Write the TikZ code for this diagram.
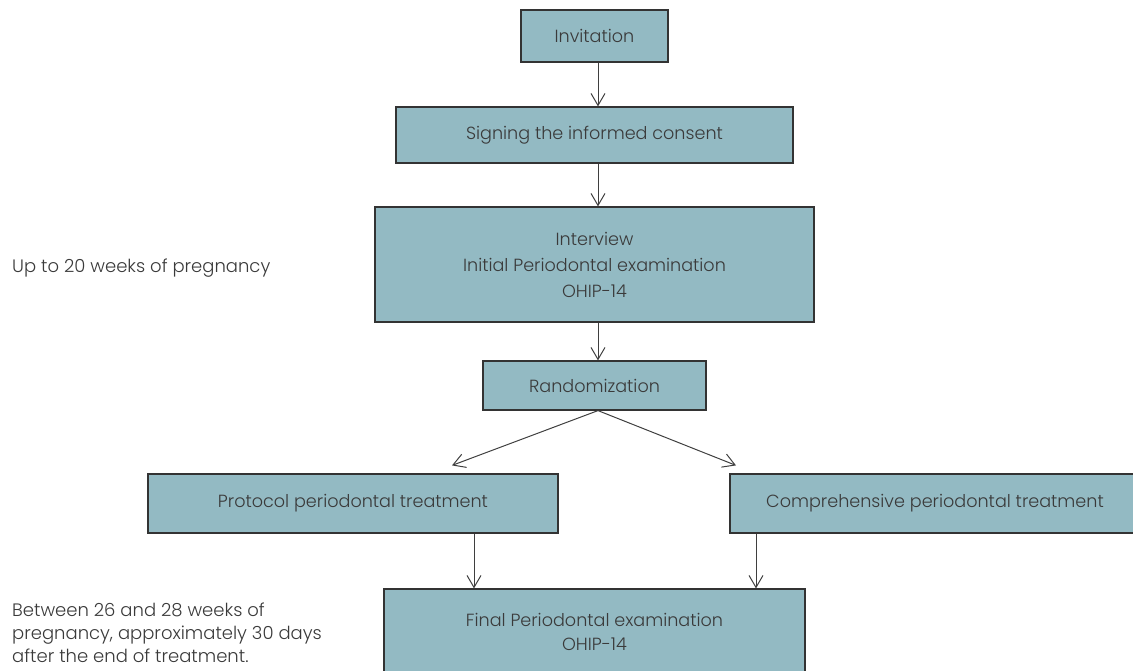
\documentclass[tikz,border=0pt]{standalone}
\usepackage{fontspec}
\setmainfont{Poppins Light}
\usetikzlibrary{arrows.meta}
\definecolor{boxfill}{HTML}{93BAC3}
\definecolor{boxline}{HTML}{333333}
\definecolor{txt}{HTML}{3A3A3A}
\definecolor{arrline}{HTML}{3F3F3F}
\begin{document}
\begin{tikzpicture}[x=1pt,y=-1pt,
  box/.style={draw=boxline,line width=1.2pt,fill=boxfill,text=txt,inner sep=0pt,
    font=\fontsize{17.6}{26}\selectfont,align=center},
  arr/.style={draw=arrline,line width=1pt,-{Straight Barb[length=12pt,width=14pt,line width=1pt]}},
  side/.style={text=txt,inner sep=0pt,font=\fontsize{18}{23}\selectfont,align=left}]
\useasboundingbox (0,0) rectangle (1133,670);
\begin{scope}
\clip (0,0) rectangle (1133,670);
\node[box,minimum width=147pt,minimum height=52pt] (inv) at (594.5,36) {Invitation};
\node[box,minimum width=397pt,minimum height=56pt] (sign) at (594.5,135) {Signing the informed consent};
\node[box,minimum width=439pt,minimum height=115pt] (intv) at (594.5,264.5) {Interview\\Initial Periodontal examination\\OHIP-14};
\node[box,minimum width=223pt,minimum height=49pt] (rand) at (594.5,385.5) {Randomization};
\node[box,minimum width=410pt,minimum height=59pt] (prot) at (353,503.5) {Protocol periodontal treatment};
\node[box,minimum width=410pt,minimum height=59pt] (comp) at (935,503.5) {Comprehensive periodontal treatment};
\node[box,minimum width=421pt,minimum height=86pt,font=\fontsize{17.6}{24}\selectfont] (final) at (594.5,632) {Final Periodontal examination\\OHIP-14};
\end{scope}
\node[side,anchor=west] (up) at (12,268) {Up to 20 weeks of pregnancy};
\node[side,anchor=west] (btw) at (12,633) {Between 26 and 28 weeks of\\pregnancy, approximately 30 days\\after the end of treatment.};
\draw[arr] ([xshift=3.5pt]inv.south) -- ([xshift=3.5pt]sign.north);
\draw[arr] ([xshift=3.5pt]sign.south) -- ([xshift=3.5pt]intv.north);
\draw[arr] ([xshift=3.5pt]intv.south) -- ([xshift=3.5pt]rand.north);
\coordinate (tipL) at ([xshift=99pt,yshift=8pt]prot.north);
\coordinate (tipR) at ([xshift=-199pt,yshift=8pt]comp.north);
\draw[arr] ([xshift=3.5pt]rand.south) -- (tipL);
\draw[arr] ([xshift=3.5pt]rand.south) -- (tipR);
\draw[arr] ([xshift=121pt]prot.south) -- ([xshift=-120.5pt]final.north);
\draw[arr] ([xshift=-179pt]comp.south) -- ([xshift=161.5pt]final.north);
\end{tikzpicture}
\end{document}
